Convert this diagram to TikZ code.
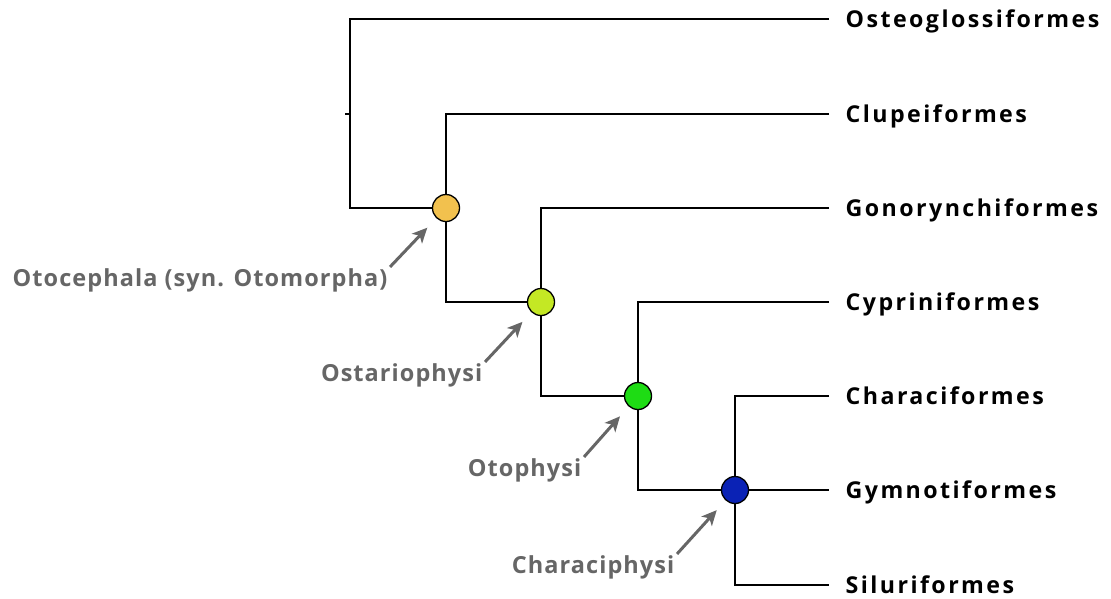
\documentclass[tikz,border=0pt]{standalone}
\usepackage{fontspec}
\setmainfont{Open Sans}
\newfontfamily\taxonfont[LetterSpace=10.5]{Open Sans}
\newfontfamily\cladefont[LetterSpace=4.5]{Open Sans}
\usetikzlibrary{positioning, arrows.meta}

\definecolor{otocol}{HTML}{F2C14E}
\definecolor{ostcol}{HTML}{C4E824}
\definecolor{otpcol}{HTML}{1EDC14}
\definecolor{chacol}{HTML}{0A22B5}
\definecolor{labgray}{HTML}{666666}

\begin{document}
\begin{tikzpicture}[x=1pt, y=-1pt, line width=1.3pt,
  clade/.style={circle, draw, line width=1.3pt, minimum size=27pt, inner sep=0pt},
  taxon/.style={anchor=west, inner xsep=16pt, inner ysep=0pt, text height=16.4pt, text depth=0pt, font=\taxonfont\fontsize{23.2}{26}\selectfont\bfseries},
  cladename/.style={anchor=east, inner sep=2pt, text height=16.8pt, text depth=0pt, text=labgray, font=\cladefont\fontsize{23.5}{26}\selectfont\bfseries},
  cladearrow/.style={draw=labgray, line width=3pt, -{Stealth[length=15pt, width=14pt, inset=4pt]}, shorten >=13pt}]
  \useasboundingbox (0,0) rectangle (1111,598);

  \node[coordinate] (root) at (350,114) {};
  \node[coordinate, left=5pt of root] (stem) {};
  \node[clade, fill=otocol] (oto) at (446,208) {};
  \node[clade, fill=ostcol] (ost) at (541,302) {};
  \node[clade, fill=otpcol] (otp) at (638,396) {};
  \node[clade, fill=chacol] (cha) at (735,490) {};

  \node[taxon] (osteo) at (829,19) {Osteoglossiformes};
  \node[taxon] (clupe) at (829,114) {Clupeiformes};
  \node[taxon] (gono) at (829,208) {Gonorynchiformes};
  \node[taxon] (cypri) at (829,302) {Cypriniformes};
  \node[taxon] (chara) at (829,396) {Characiformes};
  \node[taxon] (gymno) at (829,490) {Gymnotiformes};
  \node[taxon] (silur) at (829,585) {Siluriformes};

  \draw (stem) -- (root);
  \draw (osteo.west) -| (root) |- (oto);
  \draw (clupe.west) -| (oto);
  \draw (oto) |- (ost);
  \draw (gono.west) -| (ost);
  \draw (ost) |- (otp);
  \draw (cypri.west) -| (otp);
  \draw (otp) |- (cha);
  \draw (chara.west) -| (cha);
  \draw (cha) -- (gymno.west);
  \draw (cha) |- (silur.west);

  \node[cladename] (lbloto) at (390,278) {Otocephala (syn. Otomorpha)};
  \node[cladename] (lblost) at (485,373) {Ostariophysi};
  \node[cladename] (lblotp) at (584,468) {Otophysi};
  \node[cladename] (lblcha) at (677,565) {Characiphysi};

  \draw[cladearrow] (lbloto.north east) -- (oto);
  \draw[cladearrow] (lblost.north east) -- (ost);
  \draw[cladearrow] (lblotp.north east) -- (otp);
  \draw[cladearrow] (lblcha.north east) -- (cha);
\end{tikzpicture}
\end{document}
